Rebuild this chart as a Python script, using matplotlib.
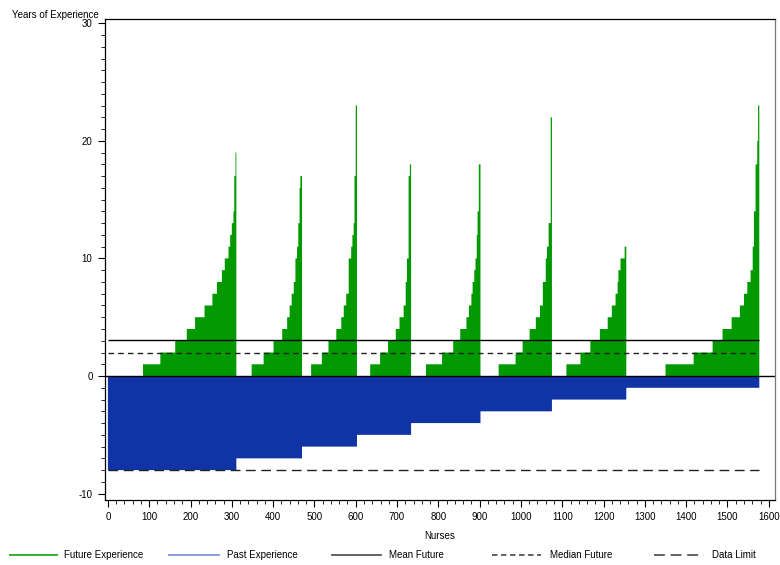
import numpy as np
import matplotlib.pyplot as plt
from matplotlib.ticker import MultipleLocator
from matplotlib.lines import Line2D

plt.rcParams['font.family'] = ['Liberation Sans', 'DejaVu Sans']
plt.rcParams['font.size'] = 7
plt.rcParams['axes.unicode_minus'] = False

# past experience of each seniority group (years), most senior first
past_years = [8, 7, 6, 5, 4, 3, 2, 1]

# future experience inside each group: step level (years) and nurses at that level
future_levels = [
    [0, 1, 2, 3, 4, 5, 6, 7, 8, 9, 10, 11, 12, 13, 14, 17, 19],
    [0, 1, 2, 3, 4, 5, 6, 7, 8, 10, 11, 13, 16, 17],
    [0, 1, 2, 3, 4, 5, 6, 7, 10, 11, 12, 13, 17, 23],
    [0, 1, 2, 3, 4, 5, 6, 8, 10, 17, 18],
    [0, 1, 2, 3, 4, 5, 6, 7, 8, 9, 10, 12, 14, 18],
    [0, 1, 2, 3, 4, 5, 6, 8, 10, 11, 13, 22],
    [0, 1, 2, 3, 4, 5, 6, 7, 8, 9, 10, 11],
    [0, 1, 2, 3, 4, 5, 6, 7, 8, 9, 11, 14, 18, 20, 23],
]
future_counts = [
    [85, 42, 36, 28, 20, 23, 19, 11, 12, 7, 9, 4, 4, 4, 2, 3, 2],
    [37, 29, 24, 21, 12, 6, 5, 5, 4, 4, 3, 3, 2, 4],
    [22, 26, 16, 19, 12, 6, 6, 6, 6, 3, 3, 2, 3, 3],
    [32, 24, 19, 19, 9, 10, 5, 3, 4, 3, 3],
    [36, 39, 27, 17, 15, 6, 6, 3, 4, 3, 3, 2, 3, 4],
    [44, 41, 17, 17, 15, 10, 7, 7, 3, 4, 5, 3],
    [35, 34, 24, 23, 19, 10, 9, 5, 2, 5, 10, 4],
    [95, 68, 46, 24, 22, 20, 10, 8, 8, 5, 3, 4, 4, 2, 3],
]

mean_future = 3.1
median_future = 2
data_limit = -8

# one value per nurse
future = np.concatenate([np.repeat(lv, ct) for lv, ct in zip(future_levels, future_counts)])
past = np.concatenate([np.repeat(p, sum(ct)) for p, ct in zip(past_years, future_counts)])
n = len(future)
edges = np.arange(n + 1)

W, H = 780, 565
fig = plt.figure(figsize=(W / 100, H / 100), dpi=100)
ax = fig.add_axes([105 / W, 1 - 500 / H, 670 / W, 481 / H])

green = '#009900'
blue = '#1034a6'

ax.stairs(future, edges, baseline=0, fill=True, color=green, lw=0)
ax.stairs(-past, edges, baseline=0, fill=True, color=blue, lw=0)

ax.axhline(0, color='black', lw=1)
ax.hlines(mean_future, 0, n, colors='black', lw=1)
ax.hlines(median_future, 0, n, colors='#222222', linestyles=(0, (4, 3)), lw=1)
ax.hlines(data_limit, 0, n, colors='#222222', linestyles=(0, (7, 4)), lw=1)

ax.set_xlim(-7, 1615)
ax.set_ylim(-10.54, 30.36)
ax.xaxis.set_major_locator(MultipleLocator(100))
ax.xaxis.set_minor_locator(MultipleLocator(20))
ax.yaxis.set_major_locator(MultipleLocator(10))
ax.yaxis.set_minor_locator(MultipleLocator(1))
ax.tick_params(which='major', length=5, width=0.8, direction='out', pad=4)
ax.tick_params(which='minor', length=3, width=0.6, direction='out')
ax.tick_params(axis='y', which='major', pad=4)
for s in ax.spines.values():
    s.set_linewidth(0.9)
ax.spines['right'].set_color('#777777')

ax.set_xlabel('Nurses', labelpad=6)
fig.text(12 / W, 1 - 15 / H, 'Years of Experience', ha='left', va='center')

# legend row along the bottom
ly = 1 - 555 / H
legend_items = [
    (10, 57, '#22aa22', '-', 'Future Experience', 64),
    (169, 219, '#7f95d8', '-', 'Past Experience', 227),
    (332, 381, '#555555', '-', 'Mean Future', 389),
    (492, 541, '#555555', (0, (3, 2)), 'Median Future', 550),
    (654, 704, '#555555', (0, (6, 3.2)), 'Data Limit', 712),
]
for x0, x1, col, ls, label, tx in legend_items:
    fig.add_artist(Line2D([x0 / W, x1 / W], [ly, ly], transform=fig.transFigure,
                          color=col, linestyle=ls, lw=1.3))
    fig.text(tx / W, ly, label, ha='left', va='center')

fig.savefig('out.png', dpi=100)
